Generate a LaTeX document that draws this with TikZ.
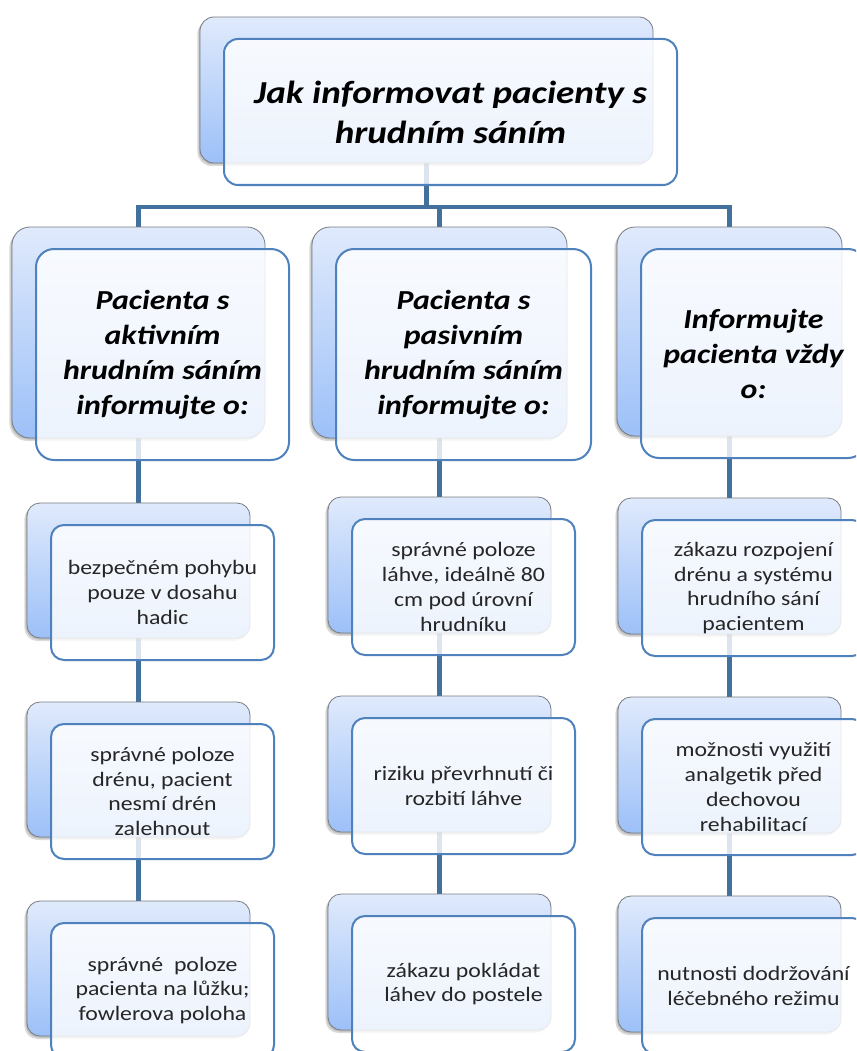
\documentclass[tikz,border=0pt]{standalone}
\usepackage{fontspec}
\setmainfont{Carlito}[FakeStretch=1.16]

\definecolor{connC}{RGB}{65,113,156}
\definecolor{frontLine}{RGB}{79,129,189}
\definecolor{backLine}{RGB}{120,124,130}
\definecolor{backTop}{RGB}{224,234,252}
\definecolor{backBot}{RGB}{156,192,248}
\definecolor{leafC}{RGB}{38,38,38}

\pgfdeclarelayer{paper}
\pgfdeclarelayer{bg}
\pgfsetlayers{paper,bg,main}

\tikzset{
  conn/.style={draw=connC, line width=4.4pt},
  shade/.style={rectangle, fill=black, fill opacity=0.14, draw=none, inner sep=0pt},
  backbox/.style={rectangle, draw=backLine, line width=0.8pt,
    top color=backTop, bottom color=backBot, inner sep=0pt},
  frontbox/.style={rectangle, draw=frontLine, line width=2pt,
    fill=white, fill opacity=0.82, text opacity=1, inner sep=0pt,
    align=center},
  titletext/.style={font=\fontsize{32}{40}\selectfont\bfseries\itshape, text=black},
  headtext/.style={font=\fontsize{27.5}{35}\selectfont\bfseries\itshape, text=black},
  leaftext/.style={font=\fontsize{20.5}{24.8}\selectfont, text=leafC},
}

% #1 name, #2 left, #3 top, #4 width, #5 height, #6 corner radius, #7 text style, #8 text
\newcommand\boxpair[8]{%
  \node[shade, rounded corners=#6pt, minimum width=#4pt, minimum height=#5pt]
    (#1s1) at ({#2+#4/2-2.6},{#3+#5/2+3}) {};
  \node[shade, rounded corners=#6pt, minimum width=#4pt, minimum height=#5pt]
    (#1s2) at ({#2+#4/2-1.3},{#3+#5/2+1.5}) {};
  \node[backbox, rounded corners=#6pt, minimum width=#4pt, minimum height=#5pt]
    (#1) at ({#2+#4/2},{#3+#5/2}) {};
  \node[frontbox, rounded corners=#6pt, minimum width=#4pt, minimum height=#5pt, #7]
    (#1f) at ({#2+#4/2+24},{#3+#5/2+22}) {#8};
}

\begin{document}
\begin{tikzpicture}[x=1pt, y=-1pt]
  \begin{pgfonlayer}{paper}
    \path[use as bounding box, fill=white] (0,0) rectangle (856,1051);
  \end{pgfonlayer}
  \clip (0,0) rectangle (856,1051);

  % root
  \boxpair{tb}{200}{17}{453}{146}{14}{titletext}{Jak informovat pacienty s\\hrudním sáním}

  % second level
  \boxpair{la}{12}{227}{253}{211}{18}{headtext}{Pacienta s\\aktivním\\hrudním sáním\\informujte o:}
  \boxpair{lb}{312}{227}{255}{211}{18}{headtext}{Pacienta s\\pasivním\\hrudním sáním\\informujte o:}
  \boxpair{lc}{617}{227}{225}{209}{18}{headtext}{Informujte\\pacienta vždy\\o:}

  % left column
  \boxpair{a1}{27}{503}{223}{135}{13}{leaftext}{bezpečném pohybu\\pouze v dosahu\\hadic}
  \boxpair{a2}{27}{702}{223}{135}{13}{leaftext}{správné poloze\\drénu, pacient\\nesmí drén\\zalehnout}
  \boxpair{a3}{27}{901}{223}{135}{13}{leaftext}{správné \ poloze\\pacienta na lůžku;\\fowlerova poloha}

  % middle column
  \boxpair{b1}{328}{497}{223}{136}{13}{leaftext}{správné poloze\\láhve, ideálně 80\\cm pod úrovní\\hrudníku}
  \boxpair{b2}{328}{696}{223}{136}{13}{leaftext}{riziku převrhnutí či\\rozbití láhve}
  \boxpair{b3}{328}{894}{223}{136}{13}{leaftext}{zákazu pokládat\\láhev do postele}

  % right column
  \boxpair{c1}{618}{498}{223}{136}{13}{leaftext}{zákazu rozpojení\\drénu a systému\\hrudního sání\\pacientem}
  \boxpair{c2}{618}{697}{223}{136}{13}{leaftext}{možnosti využití\\analgetik před\\dechovou\\rehabilitací}
  \boxpair{c3}{618}{896}{223}{136}{13}{leaftext}{nutnosti dodržování\\léčebného režimu}

  % connectors, kept beneath the boxes
  \coordinate (bus) at (0,207);
  \begin{pgfonlayer}{bg}
    \draw[conn] (tb.center) -- (tb.center |- bus);
    \draw[conn] (la.center) -- (la.center |- bus) -- (lc.center |- bus) -- (lc.center);
    \draw[conn] (lb.center |- bus) -- (lb.center);
    \draw[conn] (la.center) -- (a1.center) -- (a2.center) -- (a3.center);
    \draw[conn] (lb.center) -- (b1.center) -- (b2.center) -- (b3.center);
    \draw[conn] (lc.center) -- (c1.center) -- (c2.center) -- (c3.center);
  \end{pgfonlayer}
\end{tikzpicture}
\end{document}
